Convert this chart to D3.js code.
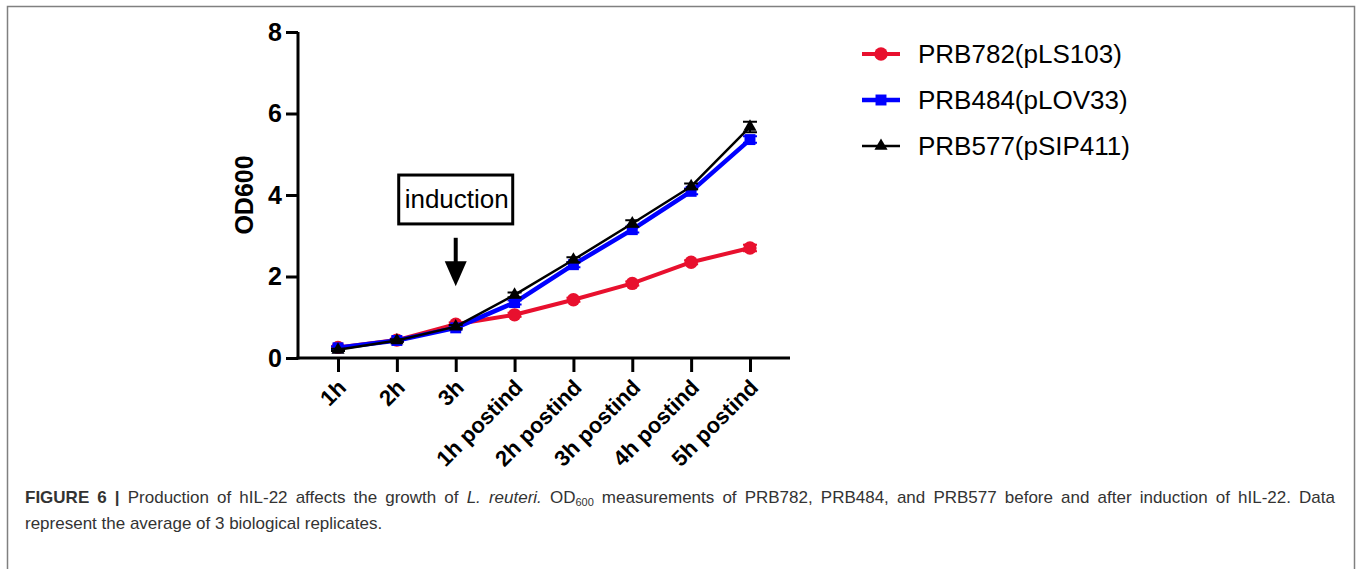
<!DOCTYPE html>
<html>
<head>
<meta charset="utf-8">
<script src="https://cdn.jsdelivr.net/npm/d3@7"></script>
<style>
  body { margin: 0; background: #fff; }
  text { font-family: "Liberation Sans", Arial, sans-serif; }
</style>
</head>
<body>
<div id="graf"></div>
<script>
// Datos
const timePoints = ["1h", "2h", "3h", "1h postind", "2h postind", "3h postind", "4h postind", "5h postind"]
const yTicks = [0, 2, 4, 6, 8]

const prb782 = [0.26, 0.44, 0.83, 1.06, 1.43, 1.83, 2.35, 2.70]
const prb782Err = [0.03, 0.03, 0.04, 0.05, 0.05, 0.05, 0.05, 0.08]
const prb484 = [0.25, 0.43, 0.74, 1.36, 2.29, 3.15, 4.09, 5.36]
const prb484Err = [0.03, 0.03, 0.04, 0.05, 0.06, 0.07, 0.07, 0.08]
const prb577 = [0.20, 0.43, 0.77, 1.55, 2.41, 3.30, 4.21, 5.67]
const prb577Err = [0.03, 0.03, 0.04, 0.06, 0.06, 0.08, 0.07, 0.13]

const seriesNames = ["PRB782(pLS103)", "PRB484(pLOV33)", "PRB577(pSIP411)"]

// Anotación de inducción (en unidades de datos)
const induction = { label: "induction", at: "3h", boxTop: 4.49, boxBottom: 3.29, arrowTop: 2.95, arrowBottom: 1.76 }

const series = [
  { name: seriesNames[0], values: prb782, err: prb782Err, color: "#e8102e", width: 4, symbol: d3.symbolCircle, size: 140 },
  { name: seriesNames[1], values: prb484, err: prb484Err, color: "#0000ff", width: 4.5, symbol: d3.symbolSquare, size: 120 },
  { name: seriesNames[2], values: prb577, err: prb577Err, color: "#000000", width: 2.5, symbol: d3.symbolTriangle, size: 75 }
]

const width = 1358
const height = 569
const margins = { top: 32, left: 298, right: 568, bottom: 211 }
const ancho = width - margins.left - margins.right
const alto = height - margins.top - margins.bottom

const svg = d3.select("#graf")
  .append("svg")
  .attr("width", width)
  .attr("height", height)

svg.append("rect")
  .attr("width", width)
  .attr("height", height)
  .attr("fill", "white")

// Marco de la figura
svg.append("rect")
  .attr("x", 7.5)
  .attr("y", 6.5)
  .attr("width", 1347)
  .attr("height", 620)
  .attr("fill", "none")
  .attr("stroke", "#808080")
  .attr("stroke-width", 1.5)

const g = svg.append("g")
  .attr("transform", `translate(${margins.left}, ${margins.top})`)

// Escaladores
const x = d3.scalePoint()
  .domain(timePoints)
  .range([0, ancho])
  .padding(0.68)

const y = d3.scaleLinear()
  .domain([0, 8])
  .range([alto, 0])

// Eje Y
const yAxis = g.append("g")
  .call(d3.axisLeft(y).tickValues(yTicks).tickSize(12).tickPadding(4))

yAxis.select(".domain").attr("stroke-width", 3).attr("d", `M-0,${alto + 1.5}V0`)
yAxis.selectAll(".tick line").attr("stroke-width", 3)
yAxis.selectAll(".tick text")
  .attr("font-size", 25)
  .attr("font-weight", "bold")
  .attr("fill", "#000")
  .attr("font-family", "Liberation Sans, Arial, sans-serif")

// Eje X
const xAxis = g.append("g")
  .attr("transform", `translate(0, ${alto})`)
  .call(d3.axisBottom(x).tickSize(14).tickPadding(0))

xAxis.select(".domain").attr("stroke-width", 3).attr("d", `M-1.5,0H${ancho}`)
xAxis.selectAll(".tick line").attr("stroke-width", 3)
xAxis.selectAll(".tick text")
  .attr("font-size", 22)
  .attr("font-weight", "bold")
  .attr("fill", "#000")
  .attr("font-family", "Liberation Sans, Arial, sans-serif")
  .attr("text-anchor", "end")
  .attr("dy", null)
  .attr("y", null)
  .attr("transform", "translate(9, 31) rotate(-45)")

// Etiqueta eje Y
svg.append("text")
  .attr("transform", `translate(253, ${margins.top + alto / 2}) rotate(-90)`)
  .attr("text-anchor", "middle")
  .attr("font-size", 25)
  .attr("font-weight", "bold")
  .text("OD600")

// Series
const line = d3.line()
  .x((d, i) => x(timePoints[i]))
  .y((d) => y(d))

series.forEach((s) => {
  const sg = g.append("g")

  // Barras de error
  sg.selectAll(".err")
    .data(s.values)
    .join("path")
    .attr("class", "err")
    .attr("fill", "none")
    .attr("stroke", s.color)
    .attr("stroke-width", 2)
    .attr("d", (d, i) => {
      const cx = x(timePoints[i])
      const top = y(d + s.err[i])
      const bottom = y(d - s.err[i])
      return `M${cx},${top}V${bottom}M${cx - 7},${top}H${cx + 7}M${cx - 7},${bottom}H${cx + 7}`
    })

  sg.append("path")
    .datum(s.values)
    .attr("fill", "none")
    .attr("stroke", s.color)
    .attr("stroke-width", s.width)
    .attr("stroke-linejoin", "round")
    .attr("d", line)

  sg.selectAll(".mark")
    .data(s.values)
    .join("path")
    .attr("class", "mark")
    .attr("fill", s.color)
    .attr("transform", (d, i) => `translate(${x(timePoints[i])}, ${y(d)})`)
    .attr("d", d3.symbol().type(s.symbol).size(s.size))
})

// Caja de inducción y flecha
const ax = x(induction.at)

g.append("rect")
  .attr("x", ax - 57)
  .attr("y", y(induction.boxTop))
  .attr("width", 114)
  .attr("height", y(induction.boxBottom) - y(induction.boxTop))
  .attr("fill", "white")
  .attr("stroke", "#000")
  .attr("stroke-width", 3)

g.append("text")
  .attr("x", ax + 1)
  .attr("y", (y(induction.boxTop) + y(induction.boxBottom)) / 2 + 9)
  .attr("text-anchor", "middle")
  .attr("font-size", 26)
  .text(induction.label)

g.append("line")
  .attr("x1", ax)
  .attr("x2", ax)
  .attr("y1", y(induction.arrowTop))
  .attr("y2", y(induction.arrowBottom) - 20)
  .attr("stroke", "#000")
  .attr("stroke-width", 4)

g.append("path")
  .attr("d", `M${ax - 11},${y(induction.arrowBottom) - 25}L${ax + 11},${y(induction.arrowBottom) - 25}L${ax},${y(induction.arrowBottom)}Z`)
  .attr("fill", "#000")

// Leyenda
const legend = svg.append("g")
  .attr("transform", "translate(862, 54)")

series.forEach((s, i) => {
  const row = legend.append("g")
    .attr("transform", `translate(0, ${i * 46})`)

  row.append("line")
    .attr("x1", 0)
    .attr("x2", 38)
    .attr("stroke", s.color)
    .attr("stroke-width", s.width)

  row.append("path")
    .attr("transform", "translate(19, 0)")
    .attr("fill", s.color)
    .attr("d", d3.symbol().type(s.symbol).size(s.size))

  row.append("text")
    .attr("x", 56)
    .attr("y", 9)
    .attr("font-size", 26)
    .text(s.name)
})

// Pie de figura
const caption = svg.append("g")
  .attr("fill", "#333")
  .attr("font-size", 17)

const line1 = caption.append("text")
  .attr("x", 25)
  .attr("y", 503)

line1.append("tspan").attr("font-weight", "bold").text("FIGURE 6 | ")
line1.append("tspan").text("Production of hIL-22 affects the growth of ")
line1.append("tspan").attr("font-style", "italic").text("L. reuteri.")
line1.append("tspan").text(" OD")
line1.append("tspan").attr("font-size", 11).attr("dy", 3).text("600")
line1.append("tspan").attr("dy", -3).text(" measurements of PRB782, PRB484, and PRB577 before and after induction of hIL-22. Data")

// Justificar la primera línea
const target = 1310
const current = line1.node().getComputedTextLength()
const spaces = line1.text().split(" ").length - 1
line1.attr("word-spacing", (target - current) / spaces)

caption.append("text")
  .attr("x", 25)
  .attr("y", 529)
  .text("represent the average of 3 biological replicates.")
</script>
</body>
</html>
